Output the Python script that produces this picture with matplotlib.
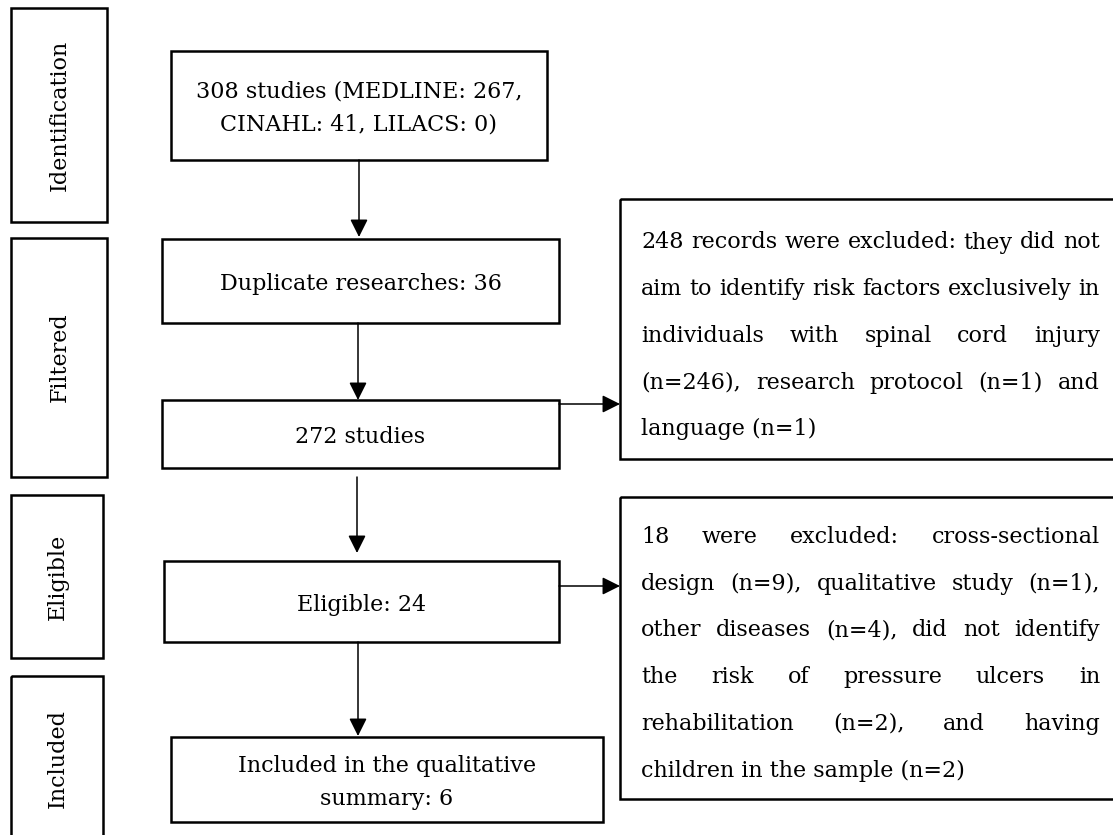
import matplotlib
matplotlib.use('Agg')
import matplotlib.pyplot as plt
from matplotlib.patches import Rectangle

plt.rcParams['font.family'] = ['DejaVu Serif']

# stage labels (left column)
stages = ['Identification', 'Filtered', 'Eligible', 'Included']

# main flow boxes, text lines
flow_text = [
    ['308 studies (MEDLINE: 267,', 'CINAHL: 41, LILACS: 0)'],
    ['Duplicate researches: 36'],
    ['272 studies'],
    ['Eligible: 24'],
    ['Included in the qualitative', 'summary: 6'],
]

# exclusion boxes, lines as broken in the original
excluded_1 = [
    '248 records were excluded: they did not',
    'aim to identify risk factors exclusively in',
    'individuals with spinal cord injury',
    '(n=246), research protocol (n=1) and',
    'language (n=1)',
]
excluded_2 = [
    '18 were excluded: cross-sectional',
    'design (n=9), qualitative study (n=1),',
    'other diseases (n=4), did not identify',
    'the risk of pressure ulcers in',
    'rehabilitation (n=2), and having',
    'children in the sample (n=2)',
]

FS = 16
BOX_LW = 1.8
ARROW_LW = 1.1

fig = plt.figure(figsize=(11.13, 8.35), dpi=100)
ax = fig.add_axes([0, 0, 1, 1])
ax.set_xlim(0, 1113)
ax.set_ylim(835, 0)
ax.axis('off')


def box(x0, y0, x1, y1):
    ax.add_patch(Rectangle((x0, y0), x1 - x0, y1 - y0, fill=False,
                           edgecolor='black', lw=BOX_LW))


def arrow(x0, y0, x1, y1):
    ax.annotate('', xy=(x1, y1), xytext=(x0, y0),
                arrowprops=dict(arrowstyle='-|>,head_length=0.4,head_width=0.2',
                                mutation_scale=27, lw=ARROW_LW, color='black',
                                shrinkA=0, shrinkB=0))


# left stage column
stage_pos = [(11, 8, 107, 222), (11, 238, 107, 477), (11, 495, 103, 658), (11, 676, 103, 840)]
for name, (x0, y0, x1, y1) in zip(stages, stage_pos):
    box(x0, y0, x1, y1)
    ax.text((x0 + x1) / 2 + 1, (y0 + y1) / 2, name, rotation=90, ha='center',
            va='center', fontsize=FS)

# main boxes
flow_pos = [(171, 51, 547, 160), (162, 239, 559, 323), (162, 400, 559, 468),
            (164, 561, 559, 642), (171, 737, 603, 822)]
flow_base = [[97.5, 130.5], [290], [443], [611], [772, 805]]
for lines, (x0, y0, x1, y1), bases in zip(flow_text, flow_pos, flow_base):
    box(x0, y0, x1, y1)
    for ln, b in zip(lines, bases):
        ax.text((x0 + x1) / 2, b, ln, ha='center', va='baseline', fontsize=FS)

# vertical arrows
arrow(359, 160, 359, 237)
arrow(358, 323, 358, 400)
arrow(357, 477, 357, 553)
arrow(358, 642, 358, 736)

# side arrows
arrow(559, 404, 620, 404)
arrow(559, 586, 620, 586)

# exclusion boxes with justified text
box(620, 199, 1130, 459)
box(620, 497, 1130, 799)

renderer = fig.canvas.get_renderer()


def justified(lines, left, right, first_base, step):
    for i, ln in enumerate(lines):
        b = first_base + i * step
        if i == len(lines) - 1:
            ax.text(left, b, ln, ha='left', va='baseline', fontsize=FS)
            continue
        words = ln.split()
        txts = [ax.text(0, b, w, ha='left', va='baseline', fontsize=FS) for w in words]
        widths = [t.get_window_extent(renderer).width for t in txts]
        gap = (right - left - sum(widths)) / (len(words) - 1)
        x = left
        for t, w in zip(txts, widths):
            t.set_x(x)
            x += w + gap


justified(excluded_1, 641, 1100, 248.5, 46.7)
justified(excluded_2, 641, 1100, 543, 46.7)

fig.savefig('out.png', dpi=100, facecolor='white')
